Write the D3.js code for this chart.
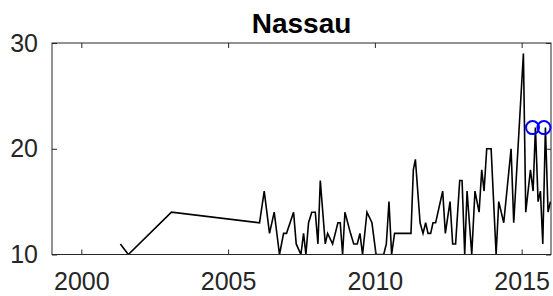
<!DOCTYPE html>
<html>
<head>
<meta charset="utf-8">
<script src="https://cdn.jsdelivr.net/npm/d3@7"></script>
<style>
  body { margin: 0; background: #fff; }
  svg { display: block; font-family: "Liberation Sans", Arial, Helvetica, sans-serif; }
</style>
</head>
<body>
<div id="chart"></div>
<script>
// Data (decimal years, counts)
var years = [2001.33, 2001.6, 2003.07, 2006.07, 2006.23, 2006.41, 2006.57, 2006.75, 2006.89, 2006.99,
  2007.23, 2007.32, 2007.48, 2007.57, 2007.65, 2007.74, 2007.85, 2007.97, 2008.06, 2008.14,
  2008.31, 2008.39, 2008.56, 2008.74, 2008.82, 2008.9, 2008.98, 2009.17, 2009.28, 2009.4,
  2009.49, 2009.58, 2009.73, 2009.9, 2010.04, 2010.3, 2010.39, 2010.48, 2010.57, 2010.67,
  2011.23, 2011.31, 2011.38, 2011.54, 2011.64, 2011.73, 2011.81, 2011.9, 2011.98, 2012.07,
  2012.31, 2012.4, 2012.56, 2012.65, 2012.75, 2012.89, 2012.97, 2013.06, 2013.14, 2013.3,
  2013.41, 2013.55, 2013.64, 2013.72, 2013.81, 2013.96, 2014.13, 2014.22, 2014.39, 2014.64,
  2014.73, 2015.06, 2015.14, 2015.3, 2015.39, 2015.47, 2015.56, 2015.64, 2015.72, 2015.81,
  2015.9, 2015.98];
var counts = [11, 10, 14, 13, 16, 12, 14, 10, 12, 12,
  14, 11, 10, 12, 10, 13, 14, 14, 11, 17,
  11, 12, 11, 13, 13, 10, 14, 12, 11, 11,
  12, 10, 14, 13, 10, 10, 11, 15, 10, 12,
  12, 18, 19, 13, 12, 13, 12, 12, 13, 13,
  16, 12, 15, 11, 11, 17, 17, 10, 16, 10,
  16, 14, 18, 16, 20, 20, 10, 15, 13, 20,
  13, 29, 14, 18, 16, 22, 15, 16, 11, 22,
  14, 15];

// Highlighted points (blue circles)
var markYears = [2015.37, 2015.76];
var markCounts = [22, 22];

var xTicks = [2000, 2005, 2010, 2015];
var yTicks = [10, 20, 30];
var title = "Nassau";

// Chart size
var W = 553, H = 296;
var margin = { top: 43, right: 2, bottom: 41.5, left: 52 };
var width = W - margin.left - margin.right,
  height = H - margin.top - margin.bottom;

var axisColor = "#262626";

var x = d3.scaleLinear().domain([1999, 2016]).range([0, width]);
var y = d3.scaleLinear().domain([10, 30]).range([height, 0]);

var svg = d3.select("#chart")
  .append("svg")
  .attr("width", W)
  .attr("height", H)
  .append("g")
  .attr("transform", "translate(" + margin.left + "," + margin.top + ")");

// Clip to the axes box
svg.append("clipPath").attr("id", "clip")
  .append("rect").attr("width", width).attr("height", height);

// Line
var pts = years.map(function (d, i) { return [d, counts[i]]; });
var line = d3.line()
  .x(function (d) { return x(d[0]); })
  .y(function (d) { return y(d[1]); });

svg.append("path")
  .datum(pts)
  .attr("clip-path", "url(#clip)")
  .attr("fill", "none")
  .attr("stroke", "#000")
  .attr("stroke-width", 1.6)
  .attr("stroke-linejoin", "miter")
  .attr("d", line);

// Axes (ticks pointing inward, MATLAB style)
function styleAxis(g) {
  g.select(".domain").remove();
  g.selectAll(".tick line").attr("stroke", axisColor).attr("stroke-width", 1);
  g.selectAll(".tick text").attr("fill", axisColor).style("font-size", "25px");
}

svg.append("g")
  .attr("transform", "translate(0," + height + ")")
  .call(d3.axisBottom(x).tickValues(xTicks).tickFormat(d3.format("d")).tickSize(-5).tickPadding(0))
  .call(styleAxis)
  .call(function (g) {
    g.selectAll(".tick text").attr("y", 35.5).attr("dy", 0);
  });

svg.append("g")
  .call(d3.axisTop(x).tickValues(xTicks).tickFormat("").tickSize(-5))
  .call(styleAxis);

svg.append("g")
  .call(d3.axisLeft(y).tickValues(yTicks).tickFormat(d3.format("d")).tickSize(-5).tickPadding(14))
  .call(styleAxis);

svg.append("g")
  .attr("transform", "translate(" + width + ",0)")
  .call(d3.axisRight(y).tickValues(yTicks).tickFormat("").tickSize(-5))
  .call(styleAxis);

// Box
svg.append("rect")
  .attr("width", width)
  .attr("height", height)
  .attr("fill", "none")
  .attr("stroke", axisColor)
  .attr("stroke-width", 1);

// Blue circle markers
svg.selectAll(".mark")
  .data(markYears)
  .enter()
  .append("circle")
  .attr("class", "mark")
  .attr("cx", function (d) { return x(d); })
  .attr("cy", function (d, i) { return y(markCounts[i]); })
  .attr("r", 6.5)
  .attr("fill", "none")
  .attr("stroke", "#0000ff")
  .attr("stroke-width", 2);

// Title
svg.append("text")
  .attr("x", width / 2)
  .attr("y", -10)
  .attr("text-anchor", "middle")
  .style("font-size", "28px")
  .style("font-weight", "bold")
  .attr("fill", "#000")
  .text(title);
</script>
</body>
</html>
